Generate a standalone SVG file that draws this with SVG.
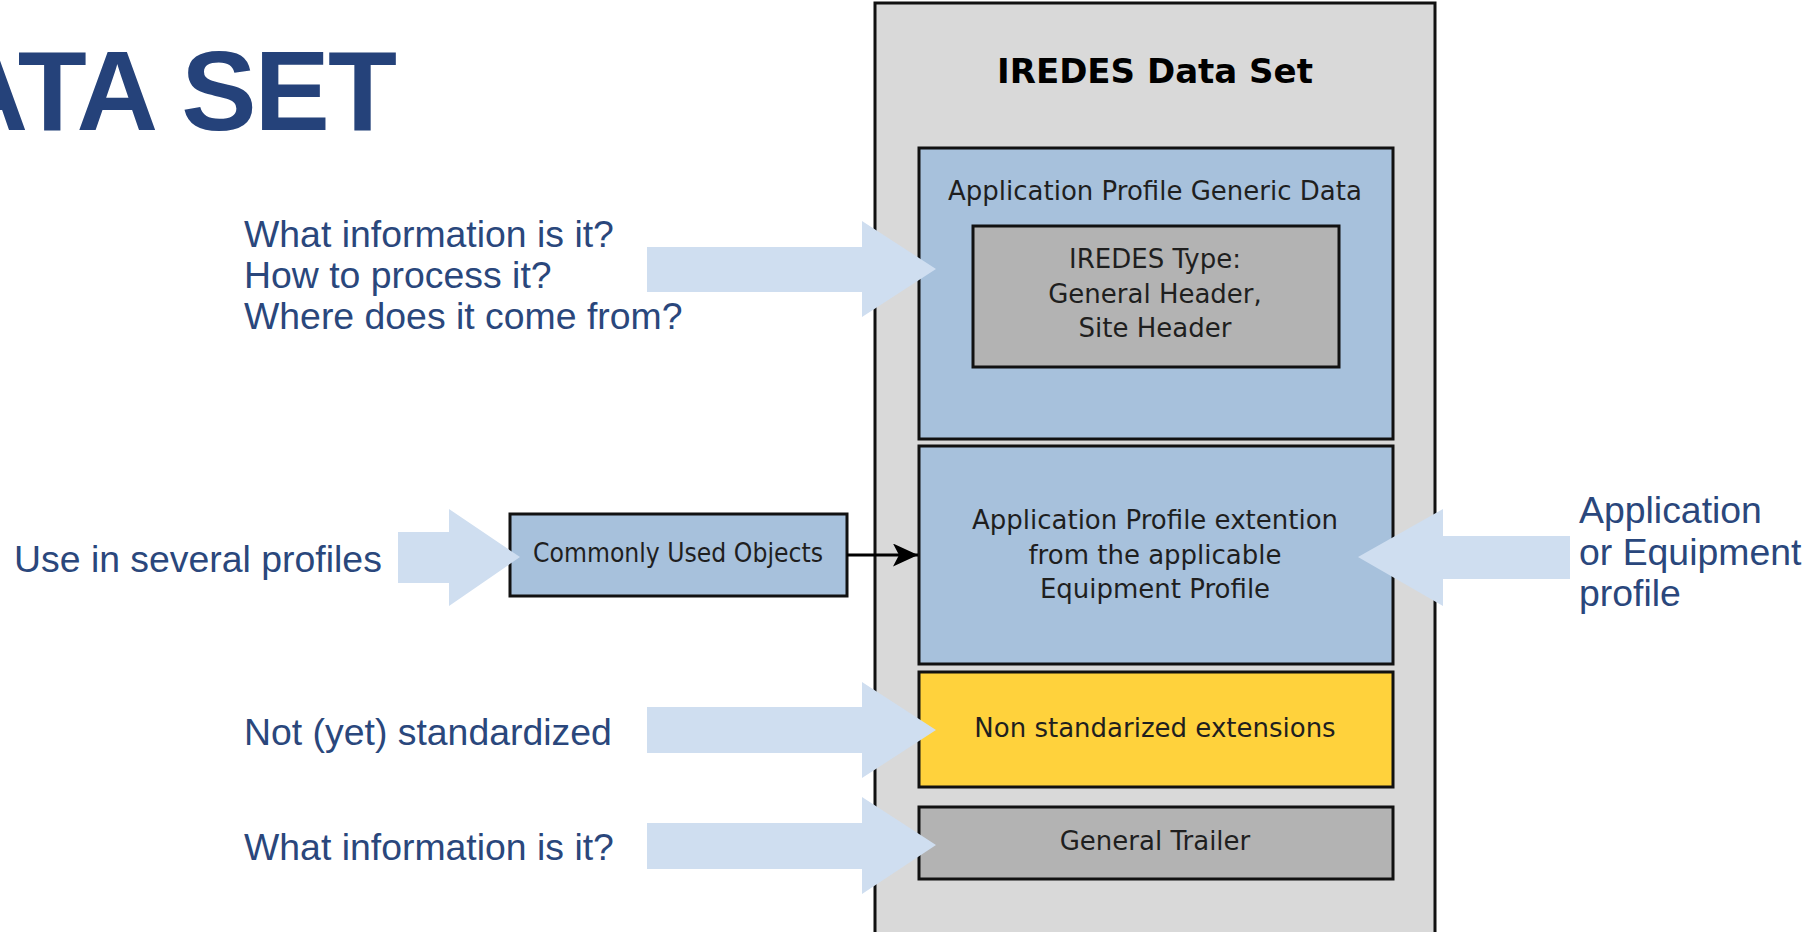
<svg xmlns="http://www.w3.org/2000/svg" width="1817" height="932" viewBox="0 0 1817 932">
<style>
.lbl{font-family:"Liberation Sans",Arial,sans-serif;font-size:37.4px;fill:#2a477c}
.box{stroke:#111;stroke-width:3}
.bt{font-family:"DejaVu Sans",Verdana,sans-serif;font-size:26px;fill:#1f1f1f;text-anchor:middle}
.big{fill:#cfdef0}
</style>
<defs>
<marker id="ah" markerWidth="25" markerHeight="23" refX="25" refY="11.5" orient="auto" markerUnits="userSpaceOnUse" viewBox="0 0 25 23">
<path d="M0,0 L25,11.5 L0,23 L6,11.5 Z" fill="#000"/>
</marker>
</defs>
<rect width="1817" height="932" fill="#fff"/>
<text x="395" y="130" text-anchor="end" font-family="'Liberation Sans',Arial,sans-serif" font-weight="bold" font-size="113" letter-spacing="-2" fill="#25427a">ATA SET</text>

<g id="outer">
<rect class="box" x="875" y="3" width="560" height="960" fill="#d9d9d9"/>
<text x="1155" y="83" text-anchor="middle" font-family="'DejaVu Sans',Verdana,sans-serif" font-weight="bold" font-size="34" fill="#000">IREDES Data Set</text>
</g>
<g id="generic">
<rect class="box" x="919" y="148" width="474" height="291" fill="#a7c1dc"/>
<text class="bt" x="1155" y="200">Application Profile Generic Data</text>
</g>
<g id="type">
<rect class="box" x="973" y="226" width="366" height="141" fill="#b3b3b3"/>
<text class="bt" x="1155" y="268">IREDES Type:</text>
<text class="bt" x="1155" y="303">General Header,</text>
<text class="bt" x="1155" y="337">Site Header</text>
</g>
<g id="extension">
<rect class="box" x="919" y="446" width="474" height="218" fill="#a7c1dc"/>
<text class="bt" x="1155" y="529">Application Profile extention</text>
<text class="bt" x="1155" y="564">from the applicable</text>
<text class="bt" x="1155" y="598">Equipment Profile</text>
</g>
<g id="nonstd">
<rect class="box" x="919" y="672" width="474" height="115" fill="#ffd23c"/>
<text class="bt" x="1155" y="737" font-size="26.5">Non standarized extensions</text>
</g>
<g id="trailer">
<rect class="box" x="919" y="807" width="474" height="72" fill="#b3b3b3"/>
<text class="bt" x="1155" y="850">General Trailer</text>
</g>
<g id="common">
<rect class="box" x="510" y="514" width="337" height="82" fill="#a7c1dc"/>
<text class="bt" x="678" y="562" font-size="23" textLength="290" lengthAdjust="spacingAndGlyphs">Commonly Used Objects</text>
</g>

<g id="connectors">
<line x1="847" y1="555" x2="918" y2="555" stroke="#000" stroke-width="3" marker-end="url(#ah)"/>
</g>

<g id="callouts">
<polygon class="big" points="647,247 862,247 862,221 936,269 862,317 862,292 647,292"/>
<polygon class="big" points="398,532 449,532 449,509 520,557 449,606 449,583 398,583"/>
<polygon class="big" points="1570,536 1443,536 1443,509 1358,557 1443,606 1443,579 1570,579"/>
<polygon class="big" points="647,707 862,707 862,682 936,730 862,778 862,753 647,753"/>
<polygon class="big" points="647,823 862,823 862,797 936,845 862,894 862,869 647,869"/>
</g>

<g id="labels">
<text class="lbl" x="244" y="247">What information is it?</text>
<text class="lbl" x="244" y="288">How to process it?</text>
<text class="lbl" x="244" y="329">Where does it come from?</text>
<text class="lbl" x="14" y="572">Use in several profiles</text>
<text class="lbl" x="244" y="745">Not (yet) standardized</text>
<text class="lbl" x="244" y="860">What information is it?</text>
<text class="lbl" x="1579" y="523">Application</text>
<text class="lbl" x="1579" y="565">or Equipment</text>
<text class="lbl" x="1579" y="606">profile</text>
</g>
</svg>
